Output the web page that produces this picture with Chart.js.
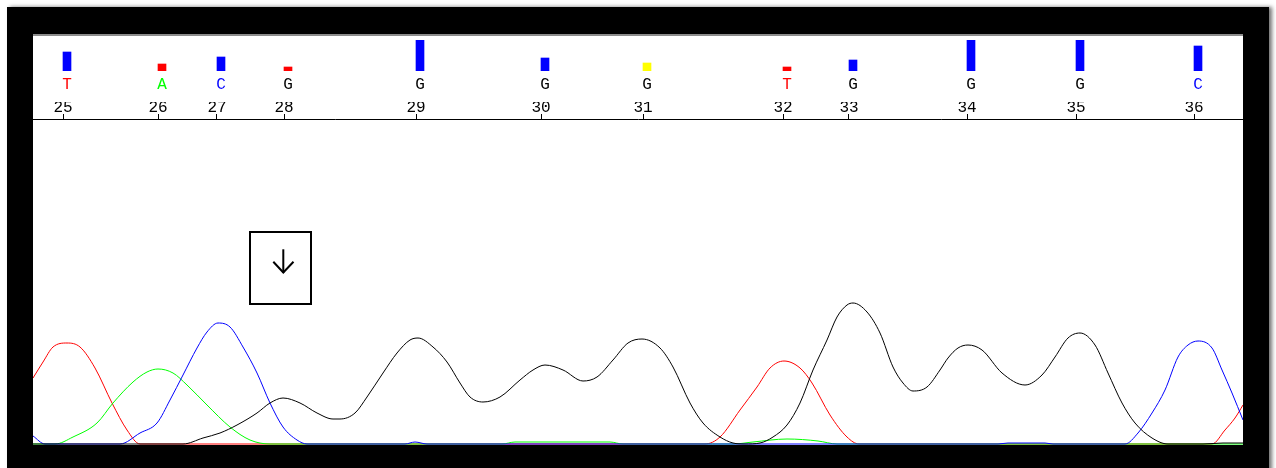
<!DOCTYPE html>
<html>
<head>
<meta charset="utf-8">
<script src="https://cdn.jsdelivr.net/npm/chart.js@4/dist/chart.umd.min.js"></script>
<style>
html,body{margin:0;padding:0;background:#fff;width:1276px;height:468px;overflow:hidden;}
#frame{position:absolute;left:7px;top:7px;width:1262px;height:470px;background:#000;box-shadow:3px 0 4px rgba(0,0,0,0.55);}
#inner{position:absolute;left:33px;top:34px;width:1210px;height:411px;background:#fff;}
#topline{position:absolute;left:33px;top:34px;width:1210px;height:2px;background:#8c8c8c;}
#cq{position:absolute;left:33px;top:36px;}
#ct{position:absolute;left:33px;top:96px;}
#btn{position:absolute;left:249px;top:231px;width:63px;height:74px;}
</style>
</head>
<body>
<div id="frame"></div>
<div id="inner"></div>
<div id="topline"></div>
<canvas id="cq" width="1210" height="60"></canvas>
<canvas id="ct" width="1210" height="349"></canvas>
<svg id="btn" width="63" height="74" viewBox="0 0 63 74">
  <rect x="1" y="1" width="61" height="72" fill="#fff" stroke="#000" stroke-width="2"/>
  <line x1="34.3" y1="18.3" x2="34.3" y2="42" stroke="#000" stroke-width="2"/>
  <polyline points="24.3,30.8 34.3,41.5 44.5,30.8" fill="none" stroke="#000" stroke-width="2"/>
</svg>
<script>
// ruler positions (scan units) and labels
const tickPos  = [30, 125, 184, 251, 383, 508, 610, 750, 816, 934, 1043, 1161];
const tickNum  = [25, 26, 27, 28, 29, 30, 31, 32, 33, 34, 35, 36];
const baseCalls = ['T', 'A', 'C', 'G', 'G', 'G', 'G', 'T', 'G', 'G', 'G', 'C'];
const quality  = [19, 7, 14, 4, 31, 13, 8, 4, 11, 31, 31, 25];

// trace samples [scan, amplitude]
const traceA = [[0,0],[22,0],[40,7],[64,21],[80,41],[100,62],[114,72],[125,75],[140,71],[154,59],[174,39],[197,17],[217,4],[237,0],
  [469,0],[482,2],[577,2],[590,0],[700,0],[720,2],[754,5],[785,3],[804,0],[1210,0]];
const traceC = [[0,8],[12,0],[87,0],[107,11],[124,21],[137,44],[150,69],[164,96],[174,112],[185,121],[197,117],[210,97],[224,71],[237,41],[250,17],[264,4],[274,0],
  [372,0],[382,2],[394,0],[965,0],[975,1],[1012,1],[1020,0],
  [1092,0],[1105,11],[1119,31],[1132,54],[1145,87],[1155,99],[1165,103],[1179,96],[1189,74],[1199,51],[1210,24]];
const traceG = [[0,0],[150,0],[170,6],[187,11],[204,19],[224,31],[237,41],[250,46],[267,41],[284,31],[300,25],[307,25],[322,31],[334,47],[350,71],[364,91],[377,104],[385,106],
  [400,97],[414,82],[427,61],[437,47],[450,42],[467,47],[487,64],[500,74],[512,79],[530,74],[550,63],[564,67],[580,84],[595,101],[609,105],[627,96],[640,77],[657,41],[670,21],[687,7],[700,1],[712,0],
  [727,1],[740,7],[754,19],[767,41],[780,74],[794,104],[804,127],[814,139],[820,141],[834,132],[847,111],[860,77],[870,61],[880,53],[894,57],[907,74],[915,86],[925,96],[935,99],[949,94],[969,71],[992,59],
  [1009,69],[1022,87],[1035,106],[1047,111],[1062,99],[1075,71],[1089,41],[1102,21],[1119,6],[1135,0],[1170,0],[1190,1],[1210,1]];
const traceT = [[0,66],[10,82],[20,97],[34,101],[47,97],[62,76],[79,41],[94,14],[107,0],[672,0],[687,7],[707,34],[724,57],[737,76],[751,83],[767,76],[779,61],[797,29],[814,7],[826,0],
  [1179,0],[1192,14],[1202,26],[1210,39]];

const baseColor = {A:'#00ff00', C:'#0000ff', G:'#000000', T:'#ff0000'};
function qColor(q){ return q < 7.5 ? '#ff0000' : (q < 10 ? '#ffff00' : '#0000ff'); }
const xy = arr => arr.map(p => ({x:p[0], y:p[1]}));
const monoFont = {family:'Liberation Mono', size:16, lineHeight:1};

// quality bars + base calls
new Chart(document.getElementById('cq'), {
  type:'bar',
  data:{datasets:[{
    data: tickPos.map((p,i) => ({x:p, y:quality[i]})),
    backgroundColor: ctx => qColor(ctx.raw ? ctx.raw.y : 0),
    borderWidth:0, barThickness:8
  }]},
  options:{
    responsive:false, animation:false, devicePixelRatio:1,
    layout:{padding:{top:4, bottom:3, left:0, right:0}},
    plugins:{legend:{display:false}, tooltip:{enabled:false}},
    scales:{
      x:{type:'linear', min:-4, max:1206, offset:false,
         grid:{display:false, drawTicks:true, tickLength:6}, border:{display:false},
         afterBuildTicks: s => { s.ticks = tickPos.map(v => ({value:v})); },
         ticks:{autoSkip:false, maxRotation:0, minRotation:0, padding:0, font:monoFont,
           callback:(v,i) => baseCalls[i],
           color: ctx => baseColor[baseCalls[ctx.index]] || '#000'}},
      y:{display:false, min:0, max:31}
    }
  }
});

// traces
new Chart(document.getElementById('ct'), {
  type:'line',
  data:{datasets:[
    {data: xy(traceG), borderColor:'#000000'},
    {data: xy(traceC), borderColor:'#0000ff'},
    {data: xy(traceA), borderColor:'#00ff00'},
    {data: xy(traceT), borderColor:'#ff0000'}
  ]},
  options:{
    responsive:false, animation:false, devicePixelRatio:1,
    layout:{padding:{top:6, bottom:0, left:0, right:0}},
    elements:{point:{radius:0}, line:{borderWidth:1, cubicInterpolationMode:'monotone', fill:false}},
    plugins:{legend:{display:false}, tooltip:{enabled:false}},
    scales:{
      x:{type:'linear', position:'top', min:0, max:1210,
         grid:{drawOnChartArea:false, color:'#000', tickLength:5, tickWidth:1},
         border:{color:'#000', width:1},
         afterBuildTicks: s => { s.ticks = tickPos.map(v => ({value:v})); },
         ticks:{autoSkip:false, maxRotation:0, minRotation:0, padding:-2, color:'#000', font:monoFont,
           callback:(v,i) => String(tickNum[i])}},
      y:{display:false, min:-1, max:325}
    }
  }
});
</script>
</body>
</html>
